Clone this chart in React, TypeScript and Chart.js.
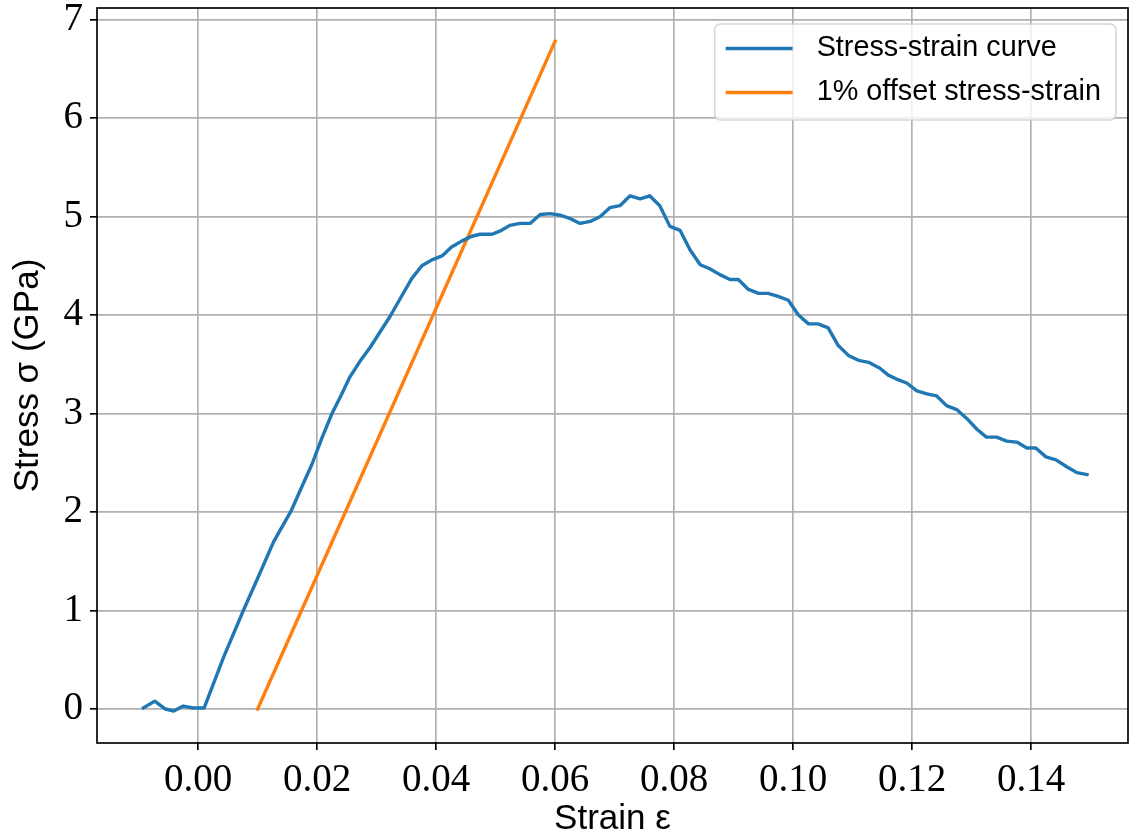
import { useEffect, useRef } from "react";
import { Chart, registerables } from "chart.js";

Chart.register(...registerables);

// Measured stress-strain curve
const strainValues = [
  -0.0092, -0.0073, -0.0055, -0.0041, -0.0025, -0.0008, 0.001, 0.0043, 0.0076,
  0.0101, 0.0127, 0.0157, 0.0176, 0.0191, 0.0208, 0.0225, 0.024, 0.0255,
  0.0272, 0.0289, 0.0306, 0.0323, 0.034, 0.0359, 0.0376, 0.0393, 0.041,
  0.0426, 0.0443, 0.046, 0.0474, 0.0494, 0.051, 0.0524, 0.0541, 0.0558,
  0.0575, 0.0592, 0.0611, 0.0625, 0.0642, 0.0659, 0.0676, 0.0692, 0.0709,
  0.0726, 0.0743, 0.0759, 0.0776, 0.0793, 0.081, 0.0827, 0.0844, 0.086,
  0.0877, 0.0894, 0.0908, 0.0925, 0.0942, 0.0958, 0.0975, 0.0992, 0.1009,
  0.1026, 0.1042, 0.1059, 0.1076, 0.1093, 0.111, 0.1127, 0.1146, 0.116,
  0.1174, 0.1191, 0.1208, 0.1225, 0.1241, 0.1258, 0.1275, 0.1292, 0.1309,
  0.1325, 0.1342, 0.1359, 0.1376, 0.1393, 0.1408, 0.1425, 0.1442, 0.146,
  0.1477, 0.1494,
];
const stressValues = [
  0.01, 0.08, 0.0, -0.02, 0.03, 0.01, 0.01, 0.53, 1.0,
  1.34, 1.7, 2.02, 2.28, 2.48, 2.75, 3.0, 3.18, 3.37,
  3.53, 3.67, 3.83, 3.99, 4.17, 4.37, 4.5, 4.56, 4.6,
  4.69, 4.75, 4.8, 4.82, 4.82, 4.86, 4.91, 4.93, 4.93,
  5.02, 5.03, 5.01, 4.98, 4.93, 4.95, 5.0, 5.09, 5.11,
  5.21, 5.18, 5.21, 5.11, 4.9, 4.86, 4.66, 4.51, 4.47,
  4.41, 4.36, 4.36, 4.26, 4.22, 4.22, 4.19, 4.15, 4.0,
  3.91, 3.91, 3.87, 3.69, 3.59, 3.54, 3.52, 3.46, 3.39,
  3.35, 3.31, 3.23, 3.2, 3.18, 3.08, 3.04, 2.95, 2.84,
  2.76, 2.76, 2.72, 2.71, 2.65, 2.65, 2.56, 2.53, 2.46,
  2.4, 2.38,
];

// 1% offset line (elastic slope shifted by 0.01 strain)
const offsetStrain = [0.01, 0.06];
const offsetStress = [0.0, 6.78];

const seriesLabels = ["Stress-strain curve", "1% offset stress-strain"];
const seriesColors = ["#1f77b4", "#ff7f0e"];

const xTickValues = [0.0, 0.02, 0.04, 0.06, 0.08, 0.1, 0.12, 0.14];
const yTickValues = [0, 1, 2, 3, 4, 5, 6, 7];
const xRange = [-0.017, 0.1563];
const yRange = [-0.345, 7.117];

const GRID = "#b0b0b0";
const SANS = "'Liberation Sans', Arial, sans-serif";
const SERIF = "'Liberation Serif', 'Times New Roman', serif";
const LINE_W = 3.4;

// Top/right spines plus the framed legend in the upper-right corner
const framePlugin = {
  id: "frameAndLegend",
  afterDatasetsDraw(chart: any) {
    const { ctx, chartArea } = chart;
    ctx.save();
    ctx.strokeStyle = "#000";
    ctx.lineWidth = 1.67;
    ctx.strokeRect(
      chartArea.left,
      chartArea.top,
      chartArea.right - chartArea.left,
      chartArea.bottom - chartArea.top
    );

    const fontSize = 28.8;
    ctx.font = `${fontSize}px ${SANS}`;
    const labels: string[] = chart.data.datasets.map((d: any) => d.label);
    const textW = Math.max(...labels.map((t) => ctx.measureText(t).width));
    const padL = 11;
    const lineLen = 67;
    const gap = 24;
    const padR = 15;
    const boxW = padL + lineLen + gap + textW + padR;
    const boxH = 96;
    const boxRight = chartArea.right - 12;
    const boxTop = chartArea.top + 16;
    const boxLeft = boxRight - boxW;

    ctx.beginPath();
    ctx.roundRect(boxLeft, boxTop, boxW, boxH, 6);
    ctx.fillStyle = "rgba(255,255,255,0.8)";
    ctx.fill();
    ctx.strokeStyle = "rgba(204,204,204,0.8)";
    ctx.lineWidth = 1.6;
    ctx.stroke();

    const rowY = [boxTop + 24.5, boxTop + 68.5];
    chart.data.datasets.forEach((d: any, i: number) => {
      const y = rowY[i];
      ctx.beginPath();
      ctx.moveTo(boxLeft + padL, y);
      ctx.lineTo(boxLeft + padL + lineLen, y);
      ctx.strokeStyle = d.borderColor;
      ctx.lineWidth = LINE_W;
      ctx.lineCap = "butt";
      ctx.stroke();
      ctx.fillStyle = "#000";
      ctx.textAlign = "left";
      ctx.textBaseline = "middle";
      ctx.fillText(d.label, boxLeft + padL + lineLen + gap, y);
    });
    ctx.restore();
  },
};

export default function App() {
  const canvasRef = useRef<HTMLCanvasElement | null>(null);

  useEffect(() => {
    if (!canvasRef.current) return;
    const curve = strainValues.map((x, i) => ({ x, y: stressValues[i] }));
    const offset = offsetStrain.map((x, i) => ({ x, y: offsetStress[i] }));

    const chart = new Chart(canvasRef.current, {
      type: "scatter",
      data: {
        datasets: [
          {
            label: seriesLabels[0],
            data: curve,
            showLine: true,
            borderColor: seriesColors[0],
            backgroundColor: seriesColors[0],
            borderWidth: LINE_W,
            pointRadius: 0,
            borderJoinStyle: "round",
            borderCapStyle: "square",
          },
          {
            label: seriesLabels[1],
            data: offset,
            showLine: true,
            borderColor: seriesColors[1],
            backgroundColor: seriesColors[1],
            borderWidth: LINE_W,
            pointRadius: 0,
            borderCapStyle: "square",
          },
        ],
      },
      options: {
        animation: false,
        responsive: false,
        devicePixelRatio: 1,
        layout: { padding: { top: 8, right: 5, left: 0, bottom: 0 } },
        plugins: {
          legend: { display: false },
          tooltip: { enabled: false },
        },
        scales: {
          x: {
            type: "linear",
            min: xRange[0],
            max: xRange[1],
            afterBuildTicks: (scale: any) => {
              scale.ticks = xTickValues.map((value) => ({ value }));
            },
            afterFit: (scale: any) => {
              scale.height = 97;
              scale.paddingLeft = 0;
              scale.paddingRight = 0;
            },
            ticks: {
              color: "#000",
              font: { family: SERIF, size: 39 },
              padding: 7,
              maxRotation: 0,
              autoSkip: false,
              callback: (v: any) => Number(v).toFixed(2),
            },
            grid: {
              color: GRID,
              lineWidth: 1.67,
              tickColor: "#000",
              tickWidth: 1.67,
              tickLength: 7,
            },
            border: { display: false },
            title: {
              display: true,
              text: "Strain ε",
              color: "#000",
              font: { family: SANS, size: 35 },
              padding: { top: 0, bottom: 0 },
            },
          },
          y: {
            type: "linear",
            min: yRange[0],
            max: yRange[1],
            afterBuildTicks: (scale: any) => {
              scale.ticks = yTickValues.map((value) => ({ value }));
            },
            afterFit: (scale: any) => {
              scale.width = 97;
              scale.paddingTop = 0;
              scale.paddingBottom = 0;
            },
            ticks: {
              color: "#000",
              font: { family: SERIF, size: 39 },
              padding: 7,
              autoSkip: false,
              callback: (v: any) => String(v),
            },
            grid: {
              color: GRID,
              lineWidth: 1.67,
              tickColor: "#000",
              tickWidth: 1.67,
              tickLength: 7,
            },
            border: { display: false },
            title: {
              display: true,
              text: "Stress σ (GPa)",
              color: "#000",
              font: { family: SANS, size: 35 },
              padding: { top: 7, bottom: 0 },
            },
          },
        },
      },
      plugins: [framePlugin],
    });

    return () => chart.destroy();
  }, []);

  return (
    <div
      style={{
        position: "fixed",
        left: 0,
        top: 0,
        width: 1133,
        height: 840,
        background: "#fff",
      }}
    >
      <canvas ref={canvasRef} width={1133} height={840} />
    </div>
  );
}
